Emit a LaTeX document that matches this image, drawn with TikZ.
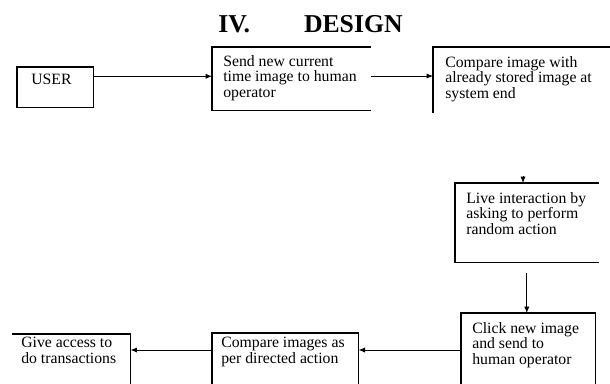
\documentclass[tikz,border=0pt]{standalone}
\usepackage{fontspec}
\setmainfont{Liberation Serif}
\usetikzlibrary{arrows.meta, positioning}
\tikzset{
  arrowK/.style={-{Latex[length=1.6mm, width=1.3mm]}, line width=0.6pt},
  edgeK/.style={line width=0.8pt},
  frame/.style={rectangle, inner sep=0pt, anchor=north west},
  boxText/.style={anchor=north west, align=left, inner sep=0pt,
                  font=\fontsize{11.2}{11}\selectfont},
  titleText/.style={anchor=base west, inner sep=0pt,
                    font=\fontsize{18.3}{20}\selectfont\bfseries},
}

\begin{document}
\begin{tikzpicture}[x=0.025cm, y=-0.025cm]
    \useasboundingbox (0,0) rectangle (610,383);
    \clip (0,0) rectangle (610,383);

    \node[titleText] (title) at (218,32) {IV.\hspace{1.35cm}DESIGN};

    % box outlines (some sides are left open)
    \node[frame, minimum width=1.9cm,   minimum height=1.0cm]   (user)   at (17,67)   {};
    \node[frame, minimum width=3.95cm,  minimum height=1.575cm] (send)   at (212,47)  {};
    \node[frame, minimum width=4.75cm,  minimum height=1.625cm] (stored) at (433,47)  {};
    \node[frame, minimum width=3.575cm, minimum height=1.975cm] (live)   at (455,183) {};
    \node[frame, minimum width=3.35cm,  minimum height=2.0cm]   (click)  at (461,313) {};
    \node[frame, minimum width=3.65cm,  minimum height=1.5cm]   (match)  at (212,333) {};
    \node[frame, minimum width=2.95cm,  minimum height=1.5cm]   (access) at (12,334)  {};

    \draw[edgeK] (user.north west) rectangle (user.south east);
    \draw[edgeK] (send.north east) -- (send.north west) -- (send.south west) -- (send.south east);
    \draw[edgeK] (stored.north east) -- (stored.north west) -- (stored.south west);
    \draw[edgeK] (live.north east) -- (live.north west) -- (live.south west) -- (live.south east);
    \draw[edgeK] (click.north west) rectangle (click.south east);
    \draw[edgeK] (match.north west) rectangle (match.south east);
    \draw[edgeK] (access.north west) -- (access.north east) -- (access.south east);

    % texts
    \node[boxText] (userT)   at ([shift={(14,7)}]user.north west)   {USER};
    \node[boxText] (sendT)   at ([shift={(11,8)}]send.north west)   {Send new current\\time image to human\\operator};
    \node[boxText] (storedT) at ([shift={(12,9)}]stored.north west) {Compare image with\\already stored image at\\system end};
    \node[boxText] (liveT)   at ([shift={(11,9)}]live.north west)   {Live interaction by\\asking to perform\\random action};
    \node[boxText] (clickT)  at ([shift={(11,9)}]click.north west)  {Click new image\\and send to\\human operator};
    \node[boxText] (matchT)  at ([shift={(9,4)}]match.north west)   {Compare images as\\per directed action};
    \node[boxText] (accessT) at ([shift={(9,3)}]access.north west)  {Give access to\\do transactions};

    % connectors
    \draw[arrowK] ([shift={(0,-11)}]user.east) coordinate (a1) -- (a1 -| send.west);
    \draw[arrowK] ([shift={(0,29)}]send.north east) coordinate (a2) -- (a2 -| stored.west);
    \draw[arrowK] ([shift={(68,-7)}]live.north west) coordinate (a3) -- (a3 |- live.north);
    \draw[arrowK] ([shift={(0,10)}]live.south) coordinate (a4) -- (a4 |- click.north);
    \draw[arrowK] ([shift={(0,37)}]click.north west) coordinate (a5) -- (a5 -| match.east);
    \draw[arrowK] ([shift={(0,17)}]match.north west) coordinate (a6) -- (a6 -| access.east);
\end{tikzpicture}
\end{document}
